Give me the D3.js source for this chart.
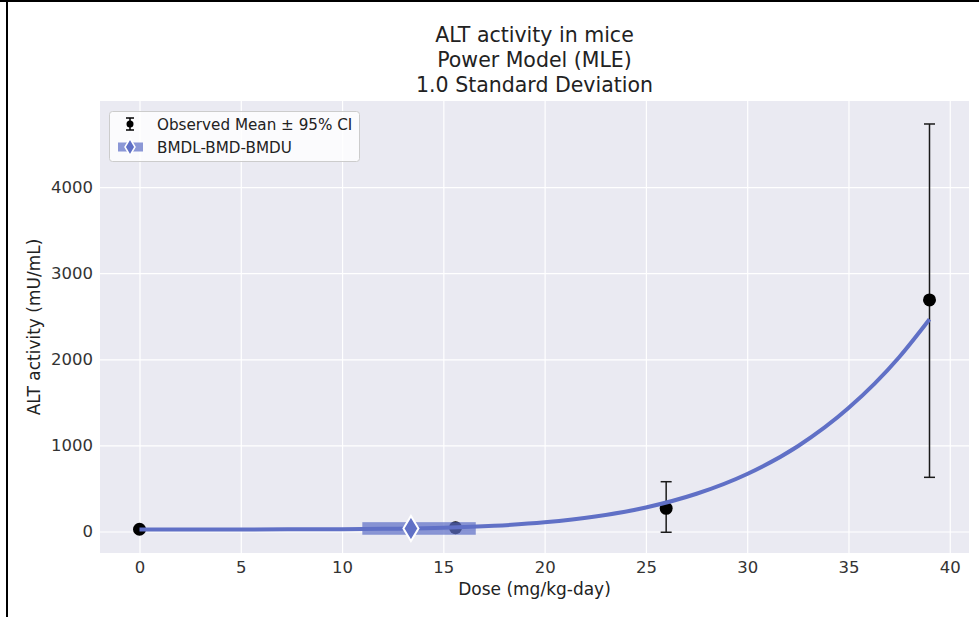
<!DOCTYPE html>
<html>
<head>
<meta charset="utf-8">
<script src="https://cdn.jsdelivr.net/npm/d3@7"></script>
<style>
  html, body { margin: 0; padding: 0; background: #ffffff; }
  svg { display: block; font-family: "DejaVu Sans", sans-serif; }
</style>
</head>
<body>
<svg id="chart" width="979" height="617"></svg>
<script>
// Observed dose groups: mean ALT activity with 95% confidence limits
const doses   = [0, 15.6, 26, 39];
const means   = [26, 44, 269, 2689];
const ciLower = [14, 30, -9, 629];
const ciUpper = [38, 58, 578, 4733];

// Fitted power model response, sampled along the dose range
const fitDoses  = [0, 5, 10, 12.5, 15, 17.5, 20, 22.5, 25, 27.5, 30, 32.5, 35, 37.5, 39];
const fitValues = [24, 24, 26, 32, 43, 66, 106, 173, 279, 438, 668, 990, 1433, 2024, 2465];

// Benchmark dose interval and the modelled response at the BMD
const bmdl = 11.0;
const bmd  = 13.4;
const bmdu = 16.6;
const bmdResponse = 35;

const xTicks = [0, 5, 10, 15, 20, 25, 30, 35, 40];
const yTicks = [0, 1000, 2000, 3000, 4000];

const titleLines = ["ALT activity in mice", "Power Model (MLE)", "1.0 Standard Deviation"];
const xLabel = "Dose (mg/kg-day)";
const yLabel = "ALT activity (mU/mL)";
const legendLabels = ["Observed Mean \u00b1 95% CI", "BMDL-BMD-BMDU"];

const modelColor = "#6070c6";
const bandColor  = "rgba(96,112,198,0.72)";

const svg = d3.select("#chart");
const plot = { left: 100, right: 969, top: 101, bottom: 553 };

const x = d3.scaleLinear().domain([-1.95, 40.95]).range([plot.left, plot.right]);
const y = d3.scaleLinear().domain([-250, 5000]).range([plot.bottom, plot.top]);

// Frame lines around the figure
svg.append("line").attr("x1", 0).attr("x2", 979).attr("y1", 1).attr("y2", 1)
  .attr("stroke", "#000").attr("stroke-width", 2);
svg.append("line").attr("x1", 7).attr("x2", 7).attr("y1", 0).attr("y2", 617)
  .attr("stroke", "#000").attr("stroke-width", 2);

// Plot background
svg.append("rect")
  .attr("x", plot.left).attr("y", plot.top)
  .attr("width", plot.right - plot.left).attr("height", plot.bottom - plot.top)
  .attr("fill", "#eaeaf2");

// Grid lines and tick labels via d3 axes
const xAxis = svg.append("g")
  .attr("transform", `translate(0,${plot.bottom})`)
  .call(d3.axisBottom(x).tickValues(xTicks).tickFormat(d3.format("d"))
    .tickSize(-(plot.bottom - plot.top)).tickPadding(8));
const yAxis = svg.append("g")
  .attr("transform", `translate(${plot.left},0)`)
  .call(d3.axisLeft(y).tickValues(yTicks).tickFormat(d3.format("d"))
    .tickSize(-(plot.right - plot.left)).tickPadding(7));

[xAxis, yAxis].forEach(g => {
  g.select(".domain").remove();
  g.selectAll(".tick line").attr("stroke", "#ffffff").attr("stroke-width", 1.2);
  g.selectAll(".tick text")
    .attr("fill", "#333333")
    .style("font-family", "DejaVu Sans, sans-serif")
    .style("font-size", "16.5px");
});

svg.append("clipPath").attr("id", "plotClip").append("rect")
  .attr("x", plot.left).attr("y", plot.top)
  .attr("width", plot.right - plot.left).attr("height", plot.bottom - plot.top);

const marks = svg.append("g").attr("clip-path", "url(#plotClip)");

// Error bars
const obs = doses.map((d, i) => ({ dose: d, mean: means[i], lo: ciLower[i], hi: ciUpper[i] }));
const capHalf = 5.5;
const eb = marks.append("g").attr("stroke", "#1a1a1a").attr("stroke-width", 1.5);
eb.selectAll("line.stem").data(obs).join("line").attr("class", "stem")
  .attr("x1", d => x(d.dose)).attr("x2", d => x(d.dose))
  .attr("y1", d => y(d.lo)).attr("y2", d => y(d.hi));
eb.selectAll("line.capHi").data(obs).join("line").attr("class", "capHi")
  .attr("x1", d => x(d.dose) - capHalf).attr("x2", d => x(d.dose) + capHalf)
  .attr("y1", d => y(d.hi)).attr("y2", d => y(d.hi));
eb.selectAll("line.capLo").data(obs).join("line").attr("class", "capLo")
  .attr("x1", d => x(d.dose) - capHalf).attr("x2", d => x(d.dose) + capHalf)
  .attr("y1", d => y(d.lo)).attr("y2", d => y(d.lo));

// Observed means
marks.selectAll("circle.mean").data(obs).join("circle").attr("class", "mean")
  .attr("cx", d => x(d.dose)).attr("cy", d => y(d.mean)).attr("r", 6.5)
  .attr("fill", "#000000");

// Fitted model curve
const fit = fitDoses.map((d, i) => ({ dose: d, value: fitValues[i] }));
marks.append("path").datum(fit)
  .attr("fill", "none").attr("stroke", modelColor).attr("stroke-width", 4)
  .attr("stroke-linecap", "butt")
  .attr("d", d3.line().x(d => x(d.dose)).y(d => y(d.value)).curve(d3.curveMonotoneX));

// BMDL-BMDU band with BMD diamond
marks.append("rect")
  .attr("x", x(bmdl)).attr("width", x(bmdu) - x(bmdl))
  .attr("y", y(bmdResponse) - 6.3).attr("height", 12.6)
  .attr("fill", bandColor);

function diamond(cx, cy, hw, hh) {
  return `M${cx},${cy - hh}L${cx + hw},${cy}L${cx},${cy + hh}L${cx - hw},${cy}Z`;
}
marks.append("path")
  .attr("d", diamond(x(bmd), y(bmdResponse), 7.5, 12.5))
  .attr("fill", modelColor).attr("stroke", "#ffffff").attr("stroke-width", 2);

// Legend
const legend = svg.append("g");
legend.append("rect")
  .attr("x", 109.5).attr("y", 111.5).attr("width", 250).attr("height", 50)
  .attr("rx", 3).attr("fill", "rgba(255,255,255,0.8)")
  .attr("stroke", "#cccccc").attr("stroke-width", 1);

const lx = 130;
const ly1 = 124, ly2 = 147;
const lg = legend.append("g").attr("stroke", "#000").attr("stroke-width", 1.5);
lg.append("line").attr("x1", lx).attr("x2", lx).attr("y1", ly1 - 6).attr("y2", ly1 + 6);
lg.append("line").attr("x1", lx - 4).attr("x2", lx + 4).attr("y1", ly1 - 6).attr("y2", ly1 - 6);
lg.append("line").attr("x1", lx - 4).attr("x2", lx + 4).attr("y1", ly1 + 6).attr("y2", ly1 + 6);
legend.append("circle").attr("cx", lx).attr("cy", ly1).attr("r", 3.5).attr("fill", "#000");

legend.append("rect").attr("x", lx - 12).attr("width", 25).attr("y", ly2 - 4.5).attr("height", 9)
  .attr("fill", bandColor);
legend.append("path").attr("d", diamond(lx, ly2, 5, 8.5))
  .attr("fill", modelColor).attr("stroke", "#ffffff").attr("stroke-width", 1.5);

legend.selectAll("text.lbl").data(legendLabels).join("text").attr("class", "lbl")
  .attr("x", 157).attr("y", (d, i) => [ly1, ly2][i] + 5.5)
  .attr("fill", "#222").style("font-size", "15.2px").text(d => d);

// Titles and axis labels
svg.selectAll("text.title").data(titleLines).join("text").attr("class", "title")
  .attr("x", (plot.left + plot.right) / 2).attr("y", (d, i) => 42 + i * 25)
  .attr("text-anchor", "middle").attr("fill", "#222")
  .style("font-size", "20.5px").text(d => d);

svg.append("text")
  .attr("x", (plot.left + plot.right) / 2).attr("y", 595)
  .attr("text-anchor", "middle").attr("fill", "#222")
  .style("font-size", "17px").text(xLabel);

svg.append("text")
  .attr("transform", `translate(40,${(plot.top + plot.bottom) / 2}) rotate(-90)`)
  .attr("text-anchor", "middle").attr("fill", "#222")
  .style("font-size", "17px").text(yLabel);
</script>
</body>
</html>
